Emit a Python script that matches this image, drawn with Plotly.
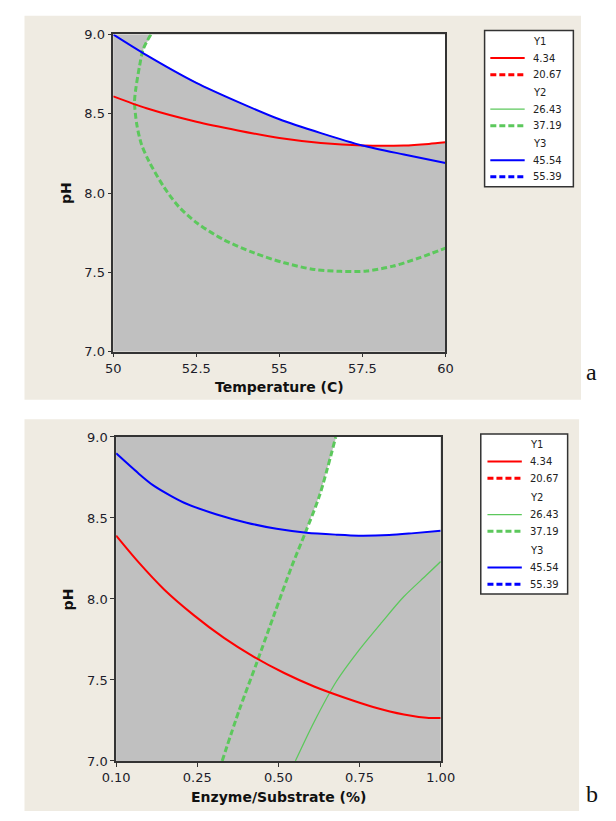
import numpy as np
import plotly.graph_objects as go

W, H = 616, 821

# ---------------- Panel a : Temperature vs pH ----------------
a_red_x = [50, 51, 52.5, 53.75, 55, 56.25, 57.5, 58.75, 59.5, 60]
a_red_y = [8.61, 8.535, 8.45, 8.395, 8.347, 8.316, 8.30, 8.30, 8.31, 8.32]

a_blue_x = [50, 51, 52.5, 53.75, 55, 56.25, 57.5, 58.75, 60]
a_blue_y = [9.0, 8.87, 8.695, 8.575, 8.465, 8.378, 8.30, 8.243, 8.19]

a_green_dash_x = [51.13, 50.90, 50.79, 50.68, 50.64, 50.71, 50.85, 51.07, 51.53, 51.98,
                  52.54, 53.33, 54.24, 55.14, 56.05, 56.84, 57.63, 58.42, 59.21, 60.0]
a_green_dash_y = [9.0, 8.907, 8.80, 8.66, 8.575, 8.43, 8.306, 8.202, 8.036, 7.912,
                  7.808, 7.705, 7.622, 7.560, 7.518, 7.506, 7.508, 7.539, 7.591, 7.653]

a_xticks = [50, 52.5, 55, 57.5, 60]
a_xticklabels = ["50", "52.5", "55", "57.5", "60"]

# ---------------- Panel b : Enzyme/Substrate vs pH ----------------
b_blue_x = [0.100, 0.160, 0.202, 0.254, 0.295, 0.379, 0.462, 0.545, 0.628, 0.711,
            0.773, 0.857, 0.919, 1.000]
b_blue_y = [8.899, 8.779, 8.703, 8.634, 8.588, 8.522, 8.471, 8.433, 8.409, 8.397,
            8.391, 8.395, 8.405, 8.421]

b_red_x = [0.100, 0.160, 0.233, 0.316, 0.399, 0.482, 0.566, 0.649, 0.732, 0.815,
           0.898, 0.961, 1.000]
b_red_y = [8.391, 8.232, 8.059, 7.899, 7.760, 7.643, 7.543, 7.460, 7.392, 7.332,
           7.287, 7.267, 7.265]

b_green_dash_x = [0.394, 0.441, 0.491, 0.540, 0.586, 0.626, 0.664, 0.709]
b_green_dash_y = [7.0, 7.312, 7.613, 7.915, 8.196, 8.417, 8.638, 9.0]

b_green_solid_x = [0.597, 0.649, 0.711, 0.773, 0.836, 0.898, 0.960, 1.0]
b_green_solid_y = [7.0, 7.241, 7.492, 7.683, 7.854, 8.015, 8.146, 8.231]

b_xticks = [0.10, 0.325, 0.55, 0.775, 1.00]
b_xticklabels = ["0.10", "0.25", "0.50", "0.75", "1.00"]

y_ticks = [7.0, 7.5, 8.0, 8.5, 9.0]
legend_groups = [("Y1", "#FF0000", ["4.34", "20.67"]),
                 ("Y2", "#5CC85C", ["26.43", "37.19"]),
                 ("Y3", "#0000FF", ["45.54", "55.39"])]

RED, BLUE, GREEN = "#FF0000", "#0000FF", "#5CC85C"
GRAY, BEIGE = "#C0C0C0", "#EFEBE2"
TICKFONT = dict(family="DejaVu Sans", size=13, color="#1c1c2a")
TITLEFONT = dict(family="DejaVu Sans", size=14, color="#111111")


def fx(p):
    return p / W


def fy(p):
    return 1 - p / H


def white_region(grid, lower, upper):
    mask = upper > lower
    xs = grid[mask]
    return (np.concatenate([xs, xs[::-1]]),
            np.concatenate([upper[mask], lower[mask][::-1]]))


fig = go.Figure()

# ---- panel a feasible (white) region
ga = np.linspace(50, 60, 1001)
k = int(np.argmin(a_green_dash_x))
arc_x = np.array(a_green_dash_x[:k + 1])[::-1]
arc_y = np.array(a_green_dash_y[:k + 1])[::-1]
low_a = np.maximum(np.interp(ga, a_blue_x, a_blue_y), np.interp(ga, a_red_x, a_red_y))
up_a = np.minimum(9.0, np.interp(ga, arc_x, arc_y))
wx, wy = white_region(ga, low_a, up_a)
fig.add_trace(go.Scatter(x=wx, y=wy, fill="toself", fillcolor="white", mode="lines",
                         line=dict(width=0, color="white"), hoverinfo="skip",
                         xaxis="x", yaxis="y", showlegend=False))

fig.add_trace(go.Scatter(x=a_green_dash_x, y=a_green_dash_y, mode="lines",
                         line=dict(color=GREEN, width=3, dash="6px,3px", shape="spline", smoothing=0.8),
                         xaxis="x", yaxis="y", showlegend=False))
fig.add_trace(go.Scatter(x=a_red_x, y=a_red_y, mode="lines",
                         line=dict(color=RED, width=2, shape="spline", smoothing=0.8),
                         xaxis="x", yaxis="y", showlegend=False))
fig.add_trace(go.Scatter(x=a_blue_x, y=a_blue_y, mode="lines",
                         line=dict(color=BLUE, width=2, shape="spline", smoothing=0.8),
                         xaxis="x", yaxis="y", showlegend=False))

# ---- panel b feasible (white) region
gb = np.linspace(0.1, 1.0, 1001)
low_b = np.interp(gb, b_blue_x, b_blue_y)
up_b = np.minimum(9.0, np.interp(gb, b_green_dash_x, b_green_dash_y))
wx, wy = white_region(gb, low_b, up_b)
fig.add_trace(go.Scatter(x=wx, y=wy, fill="toself", fillcolor="white", mode="lines",
                         line=dict(width=0, color="white"), hoverinfo="skip",
                         xaxis="x2", yaxis="y2", showlegend=False))

fig.add_trace(go.Scatter(x=b_green_dash_x, y=b_green_dash_y, mode="lines",
                         line=dict(color=GREEN, width=3, dash="6px,3px", shape="spline", smoothing=0.8),
                         xaxis="x2", yaxis="y2", showlegend=False))
fig.add_trace(go.Scatter(x=b_green_solid_x, y=b_green_solid_y, mode="lines",
                         line=dict(color=GREEN, width=1.3, shape="spline", smoothing=0.8),
                         xaxis="x2", yaxis="y2", showlegend=False))
fig.add_trace(go.Scatter(x=b_red_x, y=b_red_y, mode="lines",
                         line=dict(color=RED, width=2, shape="spline", smoothing=0.8),
                         xaxis="x2", yaxis="y2", showlegend=False))
fig.add_trace(go.Scatter(x=b_blue_x, y=b_blue_y, mode="lines",
                         line=dict(color=BLUE, width=2, shape="spline", smoothing=0.8),
                         xaxis="x2", yaxis="y2", showlegend=False))

axis_common = dict(showgrid=False, zeroline=False, showline=True, mirror=True,
                   linecolor="#333333", linewidth=1.5, ticks="outside", ticklen=4,
                   tickcolor="#333333", tickwidth=1.2, tickfont=TICKFONT)

shapes = []
annotations = []

# beige panel backgrounds
shapes.append(dict(type="rect", xref="paper", yref="paper", x0=fx(11), x1=fx(594),
                   y0=fy(400), y1=fy(9), fillcolor=BEIGE, line=dict(width=0), layer="below"))
shapes.append(dict(type="rect", xref="paper", yref="paper", x0=fx(11), x1=fx(592),
                   y0=fy(819), y1=fy(420), fillcolor=BEIGE, line=dict(width=0), layer="below"))
# gray plot backgrounds
for xr, yr in (("x", "y"), ("x2", "y2")):
    shapes.append(dict(type="rect", xref=xr + " domain", yref=yr + " domain", x0=0, x1=1,
                       y0=0, y1=1, fillcolor=GRAY, line=dict(width=0), layer="below"))


def add_legend(box, line_x0, line_x1, text_x, rows_y):
    x0, y0, x1, y1 = box
    shapes.append(dict(type="rect", xref="paper", yref="paper", x0=fx(x0), x1=fx(x1),
                       y0=fy(y1), y1=fy(y0), fillcolor="white",
                       line=dict(color="#333333", width=1.5), layer="above"))
    for gi, (name, color, labels) in enumerate(legend_groups):
        ty, sy, dy = rows_y[gi]
        annotations.append(dict(text=name, xref="paper", yref="paper", x=fx(text_x), y=fy(ty),
                                xanchor="left", yanchor="middle", showarrow=False,
                                font=dict(family="DejaVu Sans", size=10, color="#222222")))
        for j, (yy, lab) in enumerate(zip((sy, dy), labels)):
            w = 2 if j == 0 else 3
            if name == "Y2" and j == 0:
                w = 1.3
            shapes.append(dict(type="line", xref="paper", yref="paper",
                               x0=fx(line_x0), x1=fx(line_x1), y0=fy(yy), y1=fy(yy),
                               line=dict(color=color, width=w, dash="solid" if j == 0 else "6px,3px"),
                               layer="above"))
            annotations.append(dict(text=lab, xref="paper", yref="paper", x=fx(text_x), y=fy(yy),
                                    xanchor="left", yanchor="middle", showarrow=False,
                                    font=dict(family="DejaVu Sans", size=10, color="#222222")))


add_legend((493, 24, 586, 183), 499, 535, 542,
           [(35, 52, 69), (87, 104, 121), (139, 156, 173)])
add_legend((489, 435, 580, 598), 496, 532, 538,
           [(446, 463, 480), (500, 517, 534), (554, 571, 588)])

# axis titles
annotations += [
    dict(text="<b>Temperature (C)</b>", xref="paper", yref="paper", x=fx(278), y=fy(387),
         xanchor="center", yanchor="middle", showarrow=False, font=TITLEFONT),
    dict(text="<b>pH</b>", xref="paper", yref="paper", x=fx(54), y=fy(190), textangle=-90,
         xanchor="center", yanchor="middle", showarrow=False, font=TITLEFONT),
    dict(text="<b>Enzyme/Substrate (%)</b>", xref="paper", yref="paper", x=fx(277), y=fy(805),
         xanchor="center", yanchor="middle", showarrow=False, font=TITLEFONT),
    dict(text="<b>pH</b>", xref="paper", yref="paper", x=fx(57), y=fy(603), textangle=-90,
         xanchor="center", yanchor="middle", showarrow=False, font=TITLEFONT),
    dict(text="a", xref="paper", yref="paper", x=fx(605), y=fy(372),
         xanchor="center", yanchor="middle", showarrow=False,
         font=dict(family="Liberation Serif", size=24, color="#111111")),
    dict(text="b", xref="paper", yref="paper", x=fx(606), y=fy(802),
         xanchor="center", yanchor="middle", showarrow=False,
         font=dict(family="Liberation Serif", size=24, color="#111111")),
]

fig.update_layout(
    width=W, height=H, margin=dict(l=0, r=0, t=0, b=0),
    paper_bgcolor="white", plot_bgcolor="rgba(0,0,0,0)", showlegend=False,
    xaxis=dict(domain=[fx(104), fx(452)], range=[50, 60], tickvals=a_xticks,
               ticktext=a_xticklabels, anchor="y", **axis_common),
    yaxis=dict(domain=[fy(351), fy(28)], range=[7, 9], tickvals=y_ticks, tickformat=".1f",
               anchor="x", **axis_common),
    xaxis2=dict(domain=[fx(107), fx(447)], range=[0.1, 1.0], tickvals=b_xticks,
                ticktext=b_xticklabels, anchor="y2", **axis_common),
    yaxis2=dict(domain=[fy(768), fy(438)], range=[7, 9], tickvals=y_ticks, tickformat=".1f",
                anchor="x2", **axis_common),
    shapes=shapes, annotations=annotations,
)

fig.write_html("out.html", config={"displayModeBar": False},
               post_script="document.body.style.margin='0';document.body.style.padding='0';")
